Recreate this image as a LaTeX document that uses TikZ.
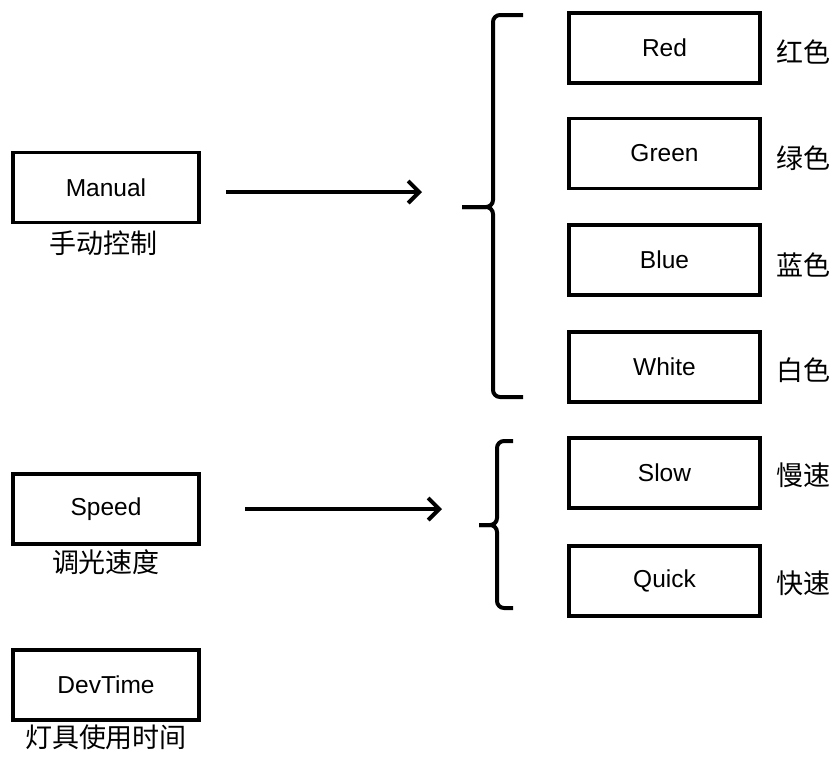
\documentclass[tikz,border=0pt]{standalone}
\usepackage{fontspec}
\setmainfont{Liberation Sans}
\newfontfamily\cjk{Noto Sans CJK SC}
\usetikzlibrary{arrows.meta}
\begin{document}
\begin{tikzpicture}[x=1pt,y=-1pt,
  box/.style={draw=black,line width=3.5pt,fill=white,minimum height=70pt,inner sep=0pt,
    font=\fontsize{24.5}{28}\selectfont},
  lbox/.style={box,minimum width=186pt},
  rbox/.style={box,minimum width=191pt},
  zh/.style={font=\cjk\fontsize{27}{31}\selectfont,inner sep=0pt},
  arr/.style={line width=4pt,-{Straight Barb[length=11pt,width=22pt,line width=4pt]}},
  bracepath/.style={line width=4pt,rounded corners=7pt}]
\useasboundingbox[fill=white] (0,0) rectangle (836,756);

% left boxes
\node[lbox] (manual) at (106,187.5) {Manual};
\node[lbox] (speed) at (106,509) {Speed};
\node[lbox] (devtime) at (106,685) {DevTime};
\node[zh] (manualzh) at (103,243) {手动控制};
\node[zh] (speedzh) at (106,562) {调光速度};
\node[zh] (devtimezh) at (106,737) {灯具使用时间};

% right boxes
\node[rbox] (red) at (664.5,48) {Red};
\node[rbox] (green) at (664.5,153.5) {Green};
\node[rbox] (blue) at (664.5,260) {Blue};
\node[rbox] (white) at (664.5,367) {White};
\node[rbox] (slow) at (664.5,473) {Slow};
\node[rbox] (quick) at (664.5,581) {Quick};

\node[zh] (redzh) at (803,52) {红色};
\node[zh] (greenzh) at (803,158) {绿色};
\node[zh] (bluezh) at (803,265) {蓝色};
\node[zh] (whitezh) at (803,370) {白色};
\node[zh] (slowzh) at (803,475) {慢速};
\node[zh] (quickzh) at (803,583) {快速};

% braces
\coordinate (b1tip) at (462,207);
\coordinate (b2tip) at (479,525);
\draw[bracepath] (523,15) -- (493,15) -- (493,207) -- (b1tip);
\draw[bracepath] (b1tip) -- (493,207) -- (493,397) -- (523,397);
\draw[bracepath] (513,441) -- (497,441) -- (497,525) -- (b2tip);
\draw[bracepath] (b2tip) -- (497,525) -- (497,608) -- (513,608);

% arrows
\coordinate (a1s) at (226,192);
\coordinate (a1e) at (422,192);
\coordinate (a2s) at (245,509);
\coordinate (a2e) at (442,509);
\draw[arr] (a1s) -- (a1e);
\draw[arr] (a2s) -- (a2e);
\end{tikzpicture}
\end{document}
